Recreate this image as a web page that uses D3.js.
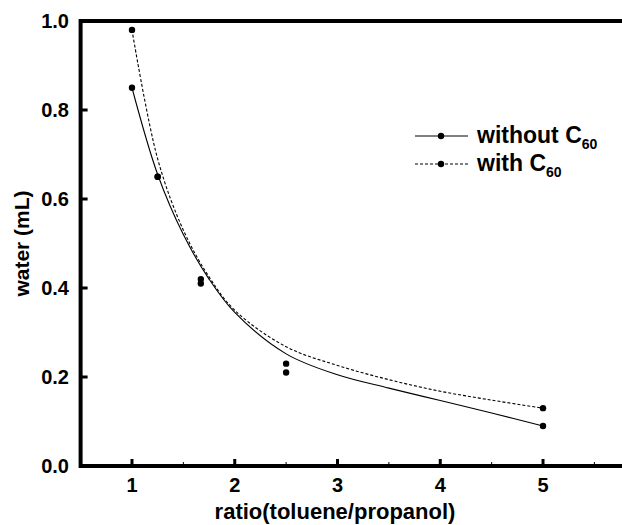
<!DOCTYPE html>
<html>
<head>
<meta charset="utf-8">
<script src="https://cdn.jsdelivr.net/npm/d3@7"></script>
<style>
  body { margin: 0; background: #fff; }
  svg { display: block; }
  text { font-family: "Liberation Sans", Arial, sans-serif; font-weight: bold; fill: #000; }
</style>
</head>
<body>
<svg id="chart"></svg>
<script>
var width = 622;
var height = 525;

// measured points
var ratioX = [1, 1.25, 1.67, 2.5, 5];
var waterWithout = [0.85, 0.65, 0.41, 0.21, 0.09];
var waterWith = [0.98, 0.65, 0.42, 0.23, 0.13];

// fitted curves
var fitX = [1, 1.25, 1.5, 1.75, 2, 2.5, 3, 3.5, 4, 4.5, 5];
var fitWithout = [0.85, 0.655, 0.52, 0.42, 0.345, 0.252, 0.205, 0.175, 0.147, 0.119, 0.09];
var fitWith = [0.98, 0.69, 0.53, 0.425, 0.35, 0.268, 0.226, 0.194, 0.168, 0.148, 0.13];

var xTicks = [1, 2, 3, 4, 5];
var yTicks = [0.0, 0.2, 0.4, 0.6, 0.8, 1.0];

var svg = d3.select("#chart")
  .attr("width", width)
  .attr("height", height);

var x = d3.scaleLinear().domain([0.5, 5.5]).range([80.6, 594.4]);
var y = d3.scaleLinear().domain([0, 1]).range([466, 21]);

var xRight = 640;

// minor ticks on x (inward)
var minor = d3.range(0.5, 6.01, 0.5).filter(function(v) { return xTicks.indexOf(v) < 0; });
svg.selectAll(".xminor")
  .data(minor)
  .enter().append("line")
  .attr("x1", function(d) { return x(d); })
  .attr("x2", function(d) { return x(d); })
  .attr("y1", y(0))
  .attr("y2", y(0) - 4)
  .attr("stroke", "#000")
  .attr("stroke-width", 1);

// major ticks
svg.selectAll(".xmajor")
  .data(xTicks)
  .enter().append("line")
  .attr("x1", function(d) { return x(d); })
  .attr("x2", function(d) { return x(d); })
  .attr("y1", y(0))
  .attr("y2", y(0) - 7)
  .attr("stroke", "#000")
  .attr("stroke-width", 3);

svg.selectAll(".ymajor")
  .data(yTicks)
  .enter().append("line")
  .attr("x1", x(0.5))
  .attr("x2", x(0.5) + 7)
  .attr("y1", function(d) { return y(d); })
  .attr("y2", function(d) { return y(d); })
  .attr("stroke", "#000")
  .attr("stroke-width", 3);

// frame
svg.append("path")
  .attr("d", "M" + xRight + "," + y(1) + "H" + x(0.5) + "V" + y(0) + "H" + xRight)
  .attr("fill", "none")
  .attr("stroke", "#000")
  .attr("stroke-width", 4);

// tick labels
svg.selectAll(".xlab")
  .data(xTicks)
  .enter().append("text")
  .attr("x", function(d) { return x(d); })
  .attr("y", 492)
  .attr("text-anchor", "middle")
  .style("font-size", "20px")
  .text(function(d) { return d; });

svg.selectAll(".ylab")
  .data(yTicks)
  .enter().append("text")
  .attr("x", 69)
  .attr("y", function(d) { return y(d) + 7; })
  .attr("text-anchor", "end")
  .style("font-size", "20px")
  .text(function(d) { return d.toFixed(1); });

// axis titles
svg.append("text")
  .attr("x", 335)
  .attr("y", 519)
  .attr("text-anchor", "middle")
  .style("font-size", "22px")
  .text("ratio(toluene/propanol)");

svg.append("text")
  .attr("transform", "translate(29," + y(0.5) + ") rotate(-90)")
  .attr("text-anchor", "middle")
  .style("font-size", "21px")
  .text("water (mL)");

// curves
var line = d3.line()
  .x(function(d) { return x(d[0]); })
  .y(function(d) { return y(d[1]); })
  .curve(d3.curveCatmullRom);

svg.append("path")
  .datum(d3.zip(fitX, fitWithout))
  .attr("d", line)
  .attr("fill", "none")
  .attr("stroke", "#000")
  .attr("stroke-width", 1.1);

svg.append("path")
  .datum(d3.zip(fitX, fitWith))
  .attr("d", line)
  .attr("fill", "none")
  .attr("stroke", "#000")
  .attr("stroke-width", 1.1)
  .attr("stroke-dasharray", "3,2");

// points
svg.selectAll(".p1")
  .data(d3.zip(ratioX, waterWithout))
  .enter().append("circle")
  .attr("cx", function(d) { return x(d[0]); })
  .attr("cy", function(d) { return y(d[1]); })
  .attr("r", 3.2)
  .attr("fill", "#000");

svg.selectAll(".p2")
  .data(d3.zip(ratioX, waterWith))
  .enter().append("circle")
  .attr("cx", function(d) { return x(d[0]); })
  .attr("cy", function(d) { return y(d[1]); })
  .attr("r", 3.2)
  .attr("fill", "#000");

// legend
var legendItems = [
  { label: "without C", dash: null, y: 136 },
  { label: "with C", dash: "3,2", y: 164 }
];

var lg = svg.selectAll(".legend")
  .data(legendItems)
  .enter().append("g")
  .attr("transform", function(d) { return "translate(0," + d.y + ")"; });

lg.append("line")
  .attr("x1", 415)
  .attr("x2", 468)
  .attr("y1", 0)
  .attr("y2", 0)
  .attr("stroke", "#000")
  .attr("stroke-width", 1)
  .attr("stroke-dasharray", function(d) { return d.dash; });

lg.append("circle")
  .attr("cx", 441)
  .attr("cy", 0)
  .attr("r", 3.2)
  .attr("fill", "#000");

var lt = lg.append("text")
  .attr("x", 477)
  .attr("y", 7)
  .style("font-size", "23px");
lt.append("tspan").text(function(d) { return d.label; });
lt.append("tspan")
  .attr("dy", 6)
  .style("font-size", "14px")
  .text("60");
</script>
</body>
</html>
